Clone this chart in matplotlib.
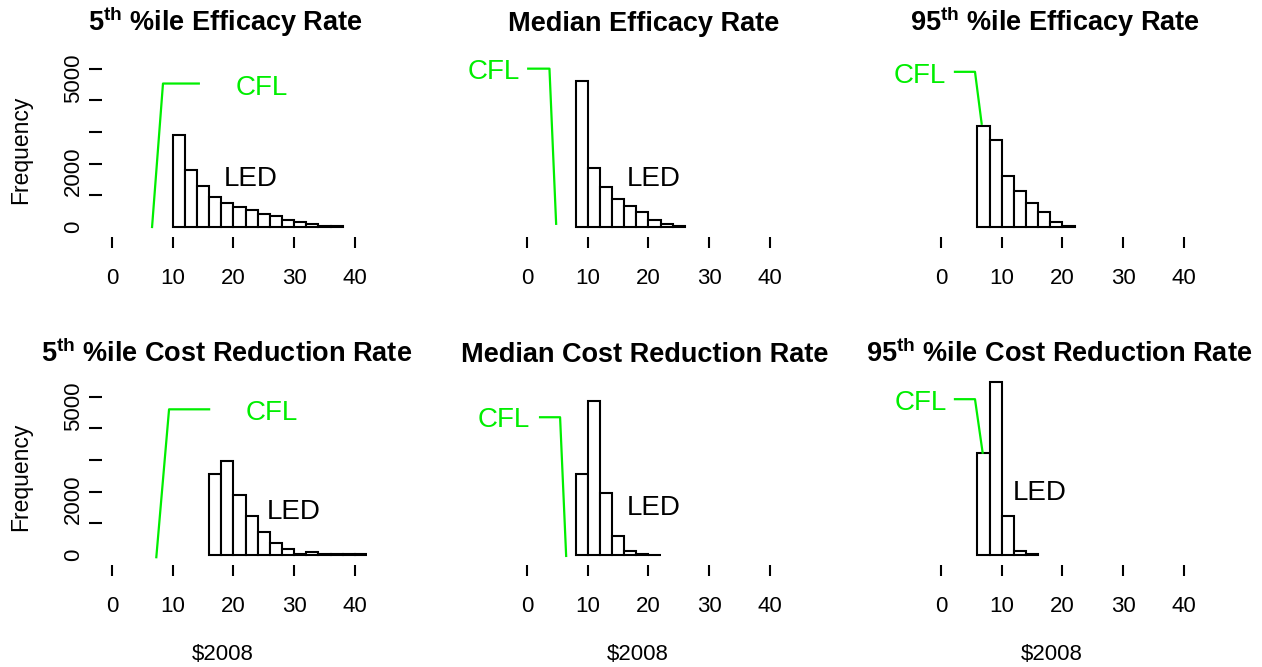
import numpy as np
import matplotlib
matplotlib.use("Agg")
import matplotlib.pyplot as plt

plt.rcParams['font.family'] = ['Liberation Sans', 'DejaVu Sans']
plt.rcParams['mathtext.fontset'] = 'custom'
plt.rcParams['mathtext.bf'] = 'Liberation Sans:bold'
plt.rcParams['mathtext.rm'] = 'Liberation Sans'

# Histogram data: first bin edge and counts (bin width 2)
bin_width = 2
eff_p5_start, eff_p5_counts = 10, [2900, 1810, 1280, 950, 760, 630, 530, 420, 350, 230, 160, 100, 40, 20]
eff_med_start, eff_med_counts = 8, [4600, 1860, 1260, 870, 660, 470, 210, 100, 20]
eff_p95_start, eff_p95_counts = 6, [3180, 2740, 1600, 1140, 760, 470, 160, 20]
cost_p5_start, cost_p5_counts = 16, [2560, 2970, 1890, 1240, 720, 390, 190, 40, 90, 20, 20, 20, 20]
cost_med_start, cost_med_counts = 8, [2550, 4860, 1950, 610, 130, 30, 10]
cost_p95_start, cost_p95_counts = 6, [3210, 5450, 1240, 140, 20]

# CFL pointer lines (x, y)
cfl_lines = [
    ([6.6, 8.4, 14.3], [0, 4530, 4530]),
    ([4.8, 3.7, 0.2], [100, 5000, 5000]),
    ([6.7, 5.6, 2.3], [3260, 4900, 4900]),
    ([7.3, 9.4, 16.0], [-70, 4600, 4600]),
    ([6.45, 5.45, 2.15], [-30, 4350, 4350]),
    ([6.86, 5.6, 2.3], [3230, 4920, 4920]),
]
cfl_text = [(24.7, 4400), (-5.4, 4900), (-3.5, 4760), (26.3, 4470), (-3.9, 4260), (-3.4, 4790)]
led_text = [(22.9, 1500), (20.8, 1500), None, (29.9, 1370), (20.8, 1470), (16.3, 1950)]

titles = [r'5$^{\mathbf{th}}$ %ile Efficacy Rate', 'Median Efficacy Rate',
          r'95$^{\mathbf{th}}$ %ile Efficacy Rate',
          r'5$^{\mathbf{th}}$ %ile Cost Reduction Rate', 'Median Cost Reduction Rate',
          r'95$^{\mathbf{th}}$ %ile Cost Reduction Rate']
title_x = [225, 644, 1055, 227, 645, 1059]
title_base = [31, 31, 31, 362, 362, 362]

hists = [(eff_p5_start, eff_p5_counts), (eff_med_start, eff_med_counts),
         (eff_p95_start, eff_p95_counts), (cost_p5_start, cost_p5_counts),
         (cost_med_start, cost_med_counts), (cost_p95_start, cost_p95_counts)]

xticks = [0, 10, 20, 30, 40]
yticks = [0, 1000, 2000, 3000, 4000, 5000]
ylabels = ['0', '2000', '5000']
ylabel_pos = [0, 1750, 4700]

W, H = 1262, 667
fig = plt.figure(figsize=(W / 100, H / 100), dpi=100)

zero_px = [112, 527, 941]
base_px = [227, 555]
ppu = 6.07        # px per x unit
ppk = 31.67       # px per 1000 counts
xlim = (-1.6, 42)
ylim = (-316, 5600)

green = '#00EE00'

for i, (start, counts) in enumerate(hists):
    r, c = divmod(i, 3)
    left = zero_px[c] + xlim[0] * ppu
    width = (xlim[1] - xlim[0]) * ppu
    top = base_px[r] - ylim[1] / 1000 * ppk
    height = (ylim[1] - ylim[0]) / 1000 * ppk
    ax = fig.add_axes([left / W, 1 - (top + height) / H, width / W, height / H])

    edges = start + bin_width * np.arange(len(counts) + 1)
    ax.bar(edges[:-1], counts, width=bin_width, align='edge',
           facecolor='white', edgecolor='black', linewidth=1.5)

    lx, ly = cfl_lines[i]
    ax.plot(lx, ly, color=green, lw=1.6, clip_on=False)
    ax.text(*cfl_text[i], 'CFL', color=green, fontsize=20, ha='center', va='center')
    if led_text[i] is not None:
        ax.text(*led_text[i], 'LED', color='black', fontsize=20, ha='center', va='center')

    ax.set_xlim(*xlim)
    ax.set_ylim(*ylim)
    for s in ax.spines.values():
        s.set_visible(False)
    ax.set_xticks(xticks)
    ax.set_xticklabels([str(t) for t in xticks])
    ax.tick_params(axis='x', direction='out', length=8, width=1.5, pad=14, labelsize=16)

    if c == 0:
        ax.set_yticks(yticks, minor=True)
        ax.set_yticks(ylabel_pos)
        ax.set_yticklabels(ylabels, rotation=90, va='center')
        ax.tick_params(axis='y', which='minor', direction='out', length=9.5, width=1.5)
        ax.tick_params(axis='y', which='major', length=0, pad=13, labelsize=16)
    else:
        ax.set_yticks([])

    fig.text(title_x[i] / W, 1 - title_base[i] / H, titles[i], fontsize=19.5,
             fontweight='bold', ha='center', va='baseline')

for yc in [150, 477]:
    fig.text(21 / W, 1 - yc / H, 'Frequency', rotation=90, fontsize=16.5,
             ha='center', va='center')
for xc in [223, 638, 1052]:
    fig.text(xc / W, 1 - 655 / H, r'\$2008', fontsize=16, ha='center', va='center')

fig.savefig('out.png', dpi=100)
